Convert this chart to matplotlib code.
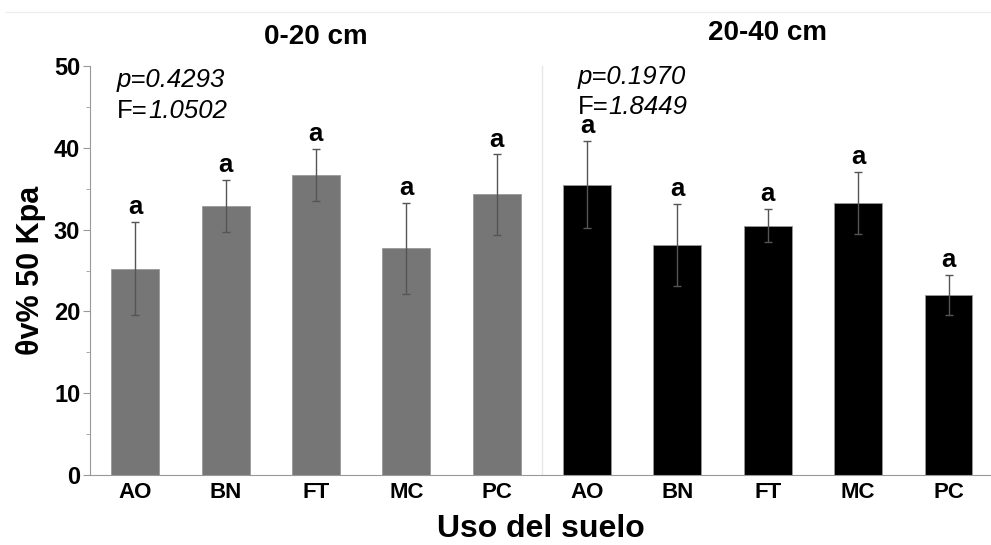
import numpy as np
import matplotlib.pyplot as plt
from matplotlib.lines import Line2D
from matplotlib.ticker import MultipleLocator

# Data
usos = ['AO', 'BN', 'FT', 'MC', 'PC']
media_0_20 = [25.2, 32.9, 36.7, 27.7, 34.3]
error_0_20 = [5.7, 3.2, 3.2, 5.6, 4.9]
media_20_40 = [35.5, 28.1, 30.5, 33.3, 22.0]
error_20_40 = [5.3, 5.0, 2.0, 3.8, 2.5]
letras_0_20 = ['a', 'a', 'a', 'a', 'a']
letras_20_40 = ['a', 'a', 'a', 'a', 'a']

plt.rcParams['font.family'] = ['Liberation Sans', 'DejaVu Sans']

fig = plt.figure(figsize=(9.91, 5.45), dpi=100)
ax = fig.add_axes([90/991, 1-475/545, 1-90/991, (475-66)/545])

x1 = np.arange(5)
x2 = np.arange(5) + 5

ax.bar(x1, media_0_20, width=0.53, color='#767676', edgecolor='#999999', linewidth=0.6, zorder=2)
ax.bar(x2, media_20_40, width=0.53, color='black', edgecolor='#999999', linewidth=0.6, zorder=2)
ax.errorbar(x1, media_0_20, yerr=error_0_20, fmt='none', ecolor='#555555', elinewidth=1, capsize=3, capthick=1, zorder=3)
ax.errorbar(x2, media_20_40, yerr=error_20_40, fmt='none', ecolor='#555555', elinewidth=1, capsize=3, capthick=1, zorder=3)

for xs, m, e, l in [(x1, media_0_20, error_0_20, letras_0_20), (x2, media_20_40, error_20_40, letras_20_40)]:
    for xi, mi, ei, li in zip(xs, m, e, l):
        ax.annotate(li, (xi, mi + ei), xytext=(0, 2), textcoords='offset points',
                    ha='center', va='bottom', fontsize=18.5, fontweight='bold')

ax.axvline(4.5, color='#e6e6e6', lw=1, zorder=1)

ax.set_xlim(-0.5, 9.47)
ax.set_ylim(0, 50)
ax.set_xticks(np.arange(10))
ax.set_xticklabels(usos + usos, fontsize=16, fontweight='bold')
ax.yaxis.set_major_locator(MultipleLocator(10))
ax.yaxis.set_minor_locator(MultipleLocator(5))
for lab in ax.get_yticklabels():
    lab.set_fontsize(17)
    lab.set_fontweight('bold')
ax.tick_params(axis='x', length=0, pad=5)
ax.tick_params(axis='y', which='major', length=5, color='#999999', pad=2)
ax.tick_params(axis='y', which='minor', length=3, color='#999999')
ax.spines['top'].set_visible(False)
ax.spines['right'].set_visible(False)
ax.spines['left'].set_color('#999999')
ax.spines['bottom'].set_color('#999999')

ax.set_ylabel('θv% 50 Kpa', fontsize=22, fontweight='bold', labelpad=6)
ax.set_xlabel('Uso del suelo', fontsize=23, fontweight='bold', labelpad=8)

ax.text(2, 53.5, '0-20 cm', ha='center', va='center', fontsize=20, fontweight='bold', clip_on=False)
ax.text(7, 54, '20-40 cm', ha='center', va='center', fontsize=20, fontweight='bold', clip_on=False)

# Stat annotations: 'F=' upright, number in italics
for xt, yp, yf, p, f in [(-0.2, 47.4, 43.7, 'p=0.4293', '1.0502'),
                         (4.9, 47.8, 44.1, 'p=0.1970', '1.8449')]:
    ax.text(xt, yp, p, fontsize=18.5, style='italic', va='baseline')
    tf = ax.text(xt, yf, 'F=', fontsize=18.5, va='baseline')
    ax.annotate(f, xy=(1, 0), xycoords=tf, fontsize=18.5, style='italic', va='bottom', ha='left')

fig.add_artist(Line2D([6/991, 1], [1-12/545, 1-12/545], color='#eeeeee', lw=1))

fig.savefig('out.png', dpi=100)
